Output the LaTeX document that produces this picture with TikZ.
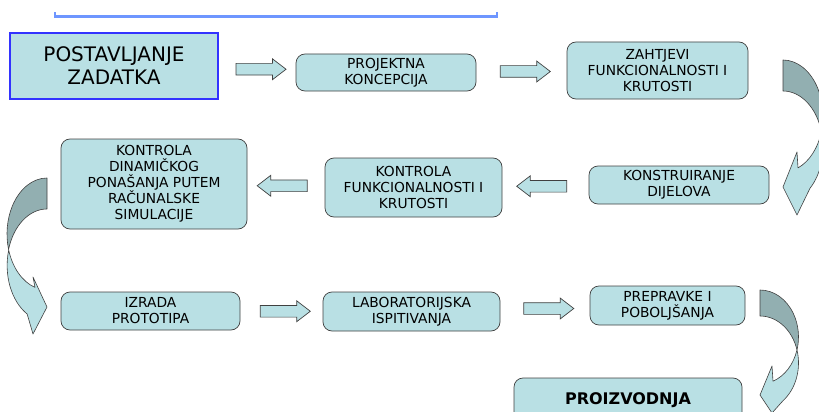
\documentclass[tikz,border=0pt]{standalone}
\usepackage{fontspec}
\setmainfont{DejaVu Sans}
\usetikzlibrary{shapes.arrows,calc}

\definecolor{boxfill}{RGB}{185,224,228}
\definecolor{bandshade}{RGB}{146,175,177}
\definecolor{edgegray}{RGB}{64,64,64}
\definecolor{taskblue}{RGB}{51,51,255}
\definecolor{barblue}{RGB}{110,150,255}

\tikzset{
  stepbox/.style={draw=edgegray,line width=0.7pt,fill=boxfill,rounded corners=9pt,
    align=center,inner sep=0pt,font=\fontsize{13.8}{16}\selectfont},
  taskbox/.style={draw=taskblue,line width=1.6pt,fill=boxfill,align=center,
    inner sep=0pt,font=\fontsize{20}{23}\selectfont},
  fwdarrow/.style={single arrow,draw=edgegray,line width=0.7pt,fill=boxfill,
    minimum height=50pt,inner xsep=0pt,inner ysep=5.5pt,single arrow head extend=4.5pt,
    single arrow tip angle=75},
  backarrow/.style={fwdarrow,shape border rotate=180},
  band/.style={draw=edgegray,line width=0.6pt,line join=round}
}

\begin{document}
\begin{tikzpicture}[x=1pt,y=-1pt]
  \path[use as bounding box,clip] (0,0) rectangle (819,412);
  \draw[barblue,line width=2.2pt] (55,12.5) -- (55,16.5) -- (497,16.5) -- (497,12.5);

  % first row
  \node[taskbox,minimum width=208pt,minimum height=66pt] (postav) at (114,66) {POSTAVLJANJE\\ZADATKA};
  \node[stepbox,minimum width=180pt,minimum height=37pt] (projekt) at (386,72.5) {PROJEKTNA\\KONCEPCIJA};
  \node[stepbox,minimum width=181pt,minimum height=57pt] (zahtjevi) at (657.5,70.5) {ZAHTJEVI\\FUNKCIONALNOSTI I\\KRUTOSTI};
  \node[fwdarrow] (a1) at ($(postav.east)!0.5!(projekt.west)$) {};
  \node[fwdarrow] (a2) at ($(projekt.east)!0.5!(zahtjevi.west)$) {};

  % second row
  \node[stepbox,minimum width=180pt,minimum height=38pt] (konstr) at (679,185) {KONSTRUIRANJE\\DIJELOVA};
  \node[stepbox,minimum width=177pt,minimum height=59pt] (kfunk) at (413.5,187.5) {KONTROLA\\FUNKCIONALNOSTI I\\KRUTOSTI};
  \node[stepbox,minimum width=186pt,minimum height=90pt] (kdin) at (154,184) {KONTROLA\\DINAMIČKOG\\PONAŠANJA PUTEM\\RAČUNALSKE\\SIMULACIJE};
  \node[backarrow] (a3) at ($(konstr.west)!0.5!(kfunk.east)$) {};
  \node[backarrow] (a4) at ($(kfunk.west)!0.5!(kdin.east)$) {};

  % third row
  \node[stepbox,minimum width=179pt,minimum height=38pt] (izrada) at (150.5,311) {IZRADA\\PROTOTIPA};
  \node[stepbox,minimum width=177pt,minimum height=39pt] (lab) at (411.5,311.5) {LABORATORIJSKA\\ISPITIVANJA};
  \node[stepbox,minimum width=155pt,minimum height=39pt] (prep) at (667.5,305.5) {PREPRAVKE I\\POBOLJŠANJA};
  \node[fwdarrow] (a5) at ($(izrada.east)!0.5!(lab.west)$) {};
  \node[fwdarrow] (a6) at ($(lab.east)!0.5!(prep.west)$) {};
  \node[stepbox,minimum width=228pt,minimum height=44pt,font=\fontsize{16}{19}\bfseries] (proizv) at (628,400) {PROIZVODNJA};

  % curved arrows between rows
  \filldraw[band,fill=bandshade] (783,60) arc[start angle=90,end angle=-16.07,x radius=40pt,y radius=56pt]
    arc[start angle=16.07,end angle=90,x radius=40pt,y radius=56pt] -- cycle;
  \filldraw[band,fill=boxfill] (821.4,131.5) arc[start angle=16.07,end angle=-47.5,x radius=40pt,y radius=56pt]
    -- (797,215) -- (783,187) -- (797,152) -- (798,167.9)
    arc[start angle=-68,end angle=-16.07,x radius=40pt,y radius=56pt] -- cycle;

  \filldraw[band,fill=bandshade] (47,178) arc[start angle=90,end angle=196.06,x radius=40pt,y radius=56pt]
    arc[start angle=163.94,end angle=90,x radius=40pt,y radius=56pt] -- cycle;
  \filldraw[band,fill=boxfill] (8.7,250) arc[start angle=163.94,end angle=240,x radius=40pt,y radius=56pt]
    -- (33,334) -- (47,307) -- (33,277) -- (35,287.4)
    arc[start angle=252.5,end angle=196.06,x radius=40pt,y radius=56pt] -- cycle;

  \filldraw[band,fill=bandshade] (760,290) arc[start angle=90,end angle=-16.06,x radius=38.5pt,y radius=47pt]
    arc[start angle=16.06,end angle=90,x radius=38.5pt,y radius=47pt] -- cycle;
  \filldraw[band,fill=boxfill] (797,350) arc[start angle=16.06,end angle=-53.3,x radius=38.5pt,y radius=47pt]
    -- (772,413) -- (760,395) -- (772,366) -- (773,381.2)
    arc[start angle=-70.2,end angle=-16.06,x radius=38.5pt,y radius=47pt] -- cycle;
\end{tikzpicture}
\end{document}
